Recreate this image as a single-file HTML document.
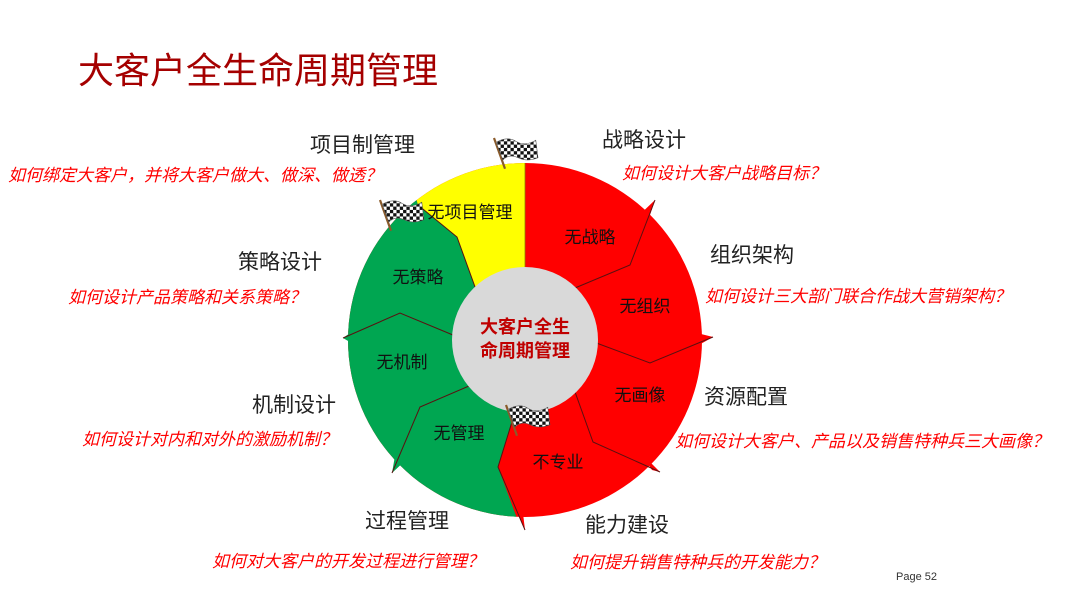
<!DOCTYPE html>
<html><head><meta charset="utf-8">
<style>
html,body{margin:0;padding:0;background:#fff;}
body{width:1080px;height:604px;overflow:hidden;position:relative;font-family:"Liberation Sans","Noto Sans CJK SC",sans-serif;}
svg{position:absolute;left:0;top:0;}
</style></head><body>
<svg width="1080" height="604" viewBox="0 0 1080 604" xmlns="http://www.w3.org/2000/svg" font-family="Liberation Sans, Noto Sans CJK SC, sans-serif">
<defs>
<clipPath id="c"><circle cx="525" cy="340" r="177"/></clipPath>
<pattern id="chk" width="6" height="6" patternUnits="userSpaceOnUse">
<rect width="6" height="6" fill="#fff"/><rect width="3" height="3" fill="#111"/><rect x="3" y="3" width="3" height="3" fill="#111"/>
</pattern>
<g id="flag">
<line x1="0" y1="0" x2="10" y2="28" stroke="#8a5a2a" stroke-width="2"/>
<path d="M2,4 Q12,-2 20,3 T38,2 L40,18 Q30,22 22,18 T8,20 Z" fill="url(#chk)" stroke="#555" stroke-width="0.5"/>
</g>
</defs>
<text x="78" y="83" font-size="36" fill="#a50000">大客户全生命周期管理</text>

<circle cx="525" cy="340" r="177" fill="#ff0000"/>
<g clip-path="url(#c)">
<polygon points="418,205 457,237 479,298 525,340 515,412 498,467 525,540 300,560 300,140 400,140" fill="#00a651"/>
<polygon points="525,140 525,340 479,298 457,237 418,205 400,140" fill="#ffff00"/>
</g>
<polygon points="498,467 525,530 522,505" fill="#ff0000"/>
<polygon points="655,200 632,222 645,230" fill="#ff0000"/>
<polygon points="713,337 685,330 690,350" fill="#ff0000"/>
<polygon points="660,472 640,452 652,470" fill="#ff0000"/>
<polygon points="343,338 360,326 360,348" fill="#00a651"/>
<polygon points="392,473 396,450 408,458" fill="#00a651"/>
<g fill="none" stroke="#5a1010" stroke-width="1">
<polyline points="655,200 630,265 563,293"/>
<polyline points="713,337 650,363 583,338"/>
<polyline points="660,472 593,442 570,378"/>
<polyline points="343,338 400,313 465,340"/>
<polyline points="392,473 420,407 483,380"/>
<polyline points="418,205 457,237 479,298"/>
<polyline points="515,412 498,467 525,530"/>
</g>
<line x1="525" y1="163" x2="525" y2="270" stroke="#8a8a00" stroke-width="0.8"/>
<circle cx="525" cy="340" r="73" fill="#d9d9d9"/>
<text x="525" y="333" font-size="18" font-weight="bold" fill="#c00000" text-anchor="middle">大客户全生</text>
<text x="525" y="357" font-size="18" font-weight="bold" fill="#c00000" text-anchor="middle">命周期管理</text>

<use href="#flag" transform="translate(494,138) scale(1.1)"/>
<use href="#flag" transform="translate(380,200) scale(1.1)"/>
<use href="#flag" transform="translate(506,405) scale(1.1)"/>

<g font-size="17" fill="#111" text-anchor="middle">
<text x="470" y="218">无项目管理</text>
<text x="590" y="243">无战略</text>
<text x="645" y="312">无组织</text>
<text x="640" y="401">无画像</text>
<text x="558" y="468">不专业</text>
<text x="459" y="439">无管理</text>
<text x="402" y="368">无机制</text>
<text x="418" y="283">无策略</text>
</g>

<g font-size="21" fill="#222">
<text x="310" y="152">项目制管理</text>
<text x="602" y="147">战略设计</text>
<text x="710" y="262">组织架构</text>
<text x="704" y="404">资源配置</text>
<text x="238" y="269">策略设计</text>
<text x="252" y="412">机制设计</text>
<text x="365" y="528">过程管理</text>
<text x="585" y="532">能力建设</text>
</g>
<g font-size="17" fill="#ff0000" font-style="italic">
<text x="8" y="181">如何绑定大客户，并将大客户做大、做深、做透？</text>
<text x="622" y="179">如何设计大客户战略目标？</text>
<text x="705" y="302">如何设计三大部门联合作战大营销架构？</text>
<text x="675" y="447">如何设计大客户、产品以及销售特种兵三大画像？</text>
<text x="68" y="303">如何设计产品策略和关系策略？</text>
<text x="82" y="445">如何设计对内和对外的激励机制？</text>
<text x="212" y="567">如何对大客户的开发过程进行管理？</text>
<text x="570" y="568">如何提升销售特种兵的开发能力？</text>
</g>
<text x="896" y="580" font-size="11" fill="#333">Page 52</text>
</svg>
</body></html>
